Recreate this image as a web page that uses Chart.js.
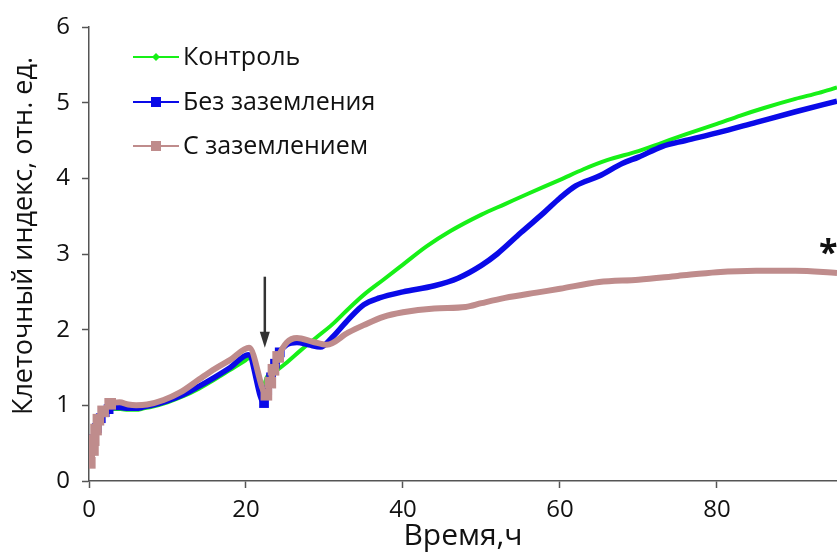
<!DOCTYPE html>
<html lang="ru">
<head>
<meta charset="UTF-8">
<title>Клеточный индекс</title>
<script src="https://cdn.jsdelivr.net/npm/chart.js"></script>
<style>
  html, body { margin: 0; padding: 0; background: #fff; overflow: hidden; }
  #wrap { width: 837px; height: 558px; }
  canvas { display: block; }
</style>
</head>
<body>
<div id="wrap"><canvas id="chart"></canvas></div>
<script>
// Контроль
const timeControl = [0, 0.5, 1, 1.5, 2, 2.5, 3, 4, 5, 6, 7, 8, 10, 12, 14, 16, 18, 20, 20.5, 22, 22.7, 24, 25, 27, 29, 31, 33, 35, 37.5, 40, 43, 46, 50, 53, 56, 60, 63, 66, 70, 73, 76, 80, 83, 86, 90, 93, 95.3];
const valControl = [0.3, 0.5, 0.7, 0.82, 0.9, 0.93, 0.95, 0.95, 0.94, 0.94, 0.96, 0.98, 1.04, 1.12, 1.22, 1.34, 1.47, 1.6, 1.63, 1.2, 1.38, 1.47, 1.55, 1.73, 1.9, 2.07, 2.27, 2.46, 2.66, 2.86, 3.1, 3.3, 3.52, 3.66, 3.8, 3.98, 4.12, 4.24, 4.36, 4.47, 4.58, 4.72, 4.83, 4.93, 5.05, 5.13, 5.2];

// Без заземления
const timeNoGround = [0, 0.3, 0.6, 1, 1.5, 2, 2.5, 3, 4, 5, 6, 7, 8, 10, 12, 14, 16, 18, 20.3, 22.3, 22.7, 23.2, 23.7, 24.3, 25.2, 26.5, 28, 29.5, 31, 33, 35, 37, 40, 44, 47, 50, 52, 55, 58, 60, 62, 65, 68, 70, 73, 76, 80, 85, 90, 95.3];
const valNoGround = [0.35, 0.45, 0.55, 0.7, 0.83, 0.91, 0.95, 0.97, 0.97, 0.96, 0.96, 0.98, 1.0, 1.06, 1.14, 1.25, 1.37, 1.5, 1.67, 1.03, 1.2, 1.37, 1.55, 1.7, 1.8, 1.83, 1.8, 1.77, 1.9, 2.13, 2.33, 2.42, 2.5, 2.58, 2.68, 2.85, 3.0, 3.28, 3.55, 3.74, 3.9, 4.03, 4.2, 4.28, 4.42, 4.5, 4.6, 4.74, 4.88, 5.02];

// С заземлением
const timeGround = [0, 0.1, 0.5, 0.6, 0.9, 1.2, 1.8, 2.7, 3.9, 5, 6, 7.4, 9.5, 11.6, 14, 16, 18, 20.4, 22.6, 23.1, 23.5, 24.1, 25.2, 26.5, 28.5, 30.3, 33, 35, 37.5, 40, 44, 48, 50, 53, 57, 60, 65, 70, 75, 80, 85, 90, 95.3];
const valGround = [0.38, 0.24, 0.41, 0.54, 0.68, 0.81, 0.92, 1.02, 1.04, 1.01, 1.0, 1.01, 1.07, 1.17, 1.34, 1.48, 1.6, 1.76, 1.14, 1.3, 1.47, 1.64, 1.83, 1.89, 1.84, 1.8, 1.96, 2.06, 2.17, 2.23, 2.28, 2.3, 2.35, 2.42, 2.49, 2.54, 2.63, 2.66, 2.71, 2.76, 2.78, 2.78, 2.75];

const seriesNames = ["Контроль", "Без заземления", "С заземлением"];
const xTicks = [0, 20, 40, 60, 80];
const yTicks = [0, 1, 2, 3, 4, 5, 6];
const yTitle = "Клеточный индекс, отн. ед.";

// стрелка (момент воздействия) и звёздочка
const arrowX = 22.4, arrowTop = 2.7, arrowTip = 1.76;
const starX = 94.2, starY = 3.0;

const FONT = "'Open Sans', sans-serif";

function pts(t, v) { return t.map((x, i) => ({ x: x, y: v[i] })); }

// квадратные маркеры видны только там, где точки редкие
function markerRadius(size) {
  return ctx => {
    const x = ctx.raw ? ctx.raw.x : 50;
    return (x < 2.8 || (x > 22 && x < 24.5)) ? size : 0;
  };
}

const datasets = [
  { label: seriesNames[0], data: pts(timeControl, valControl), borderColor: "#17f017", backgroundColor: "#17f017",
    borderWidth: 4, pointRadius: 0, pointStyle: "rectRot", order: 3, legendMarker: { style: "diamond", size: 4 } },
  { label: seriesNames[1], data: pts(timeNoGround, valNoGround), borderColor: "#0a0ae8", backgroundColor: "#0a0ae8",
    borderWidth: 5.5, pointRadius: markerRadius(3), pointStyle: "rect", order: 2, legendMarker: { style: "square", size: 5 } },
  { label: seriesNames[2], data: pts(timeGround, valGround), borderColor: "#bf8c8c", backgroundColor: "#bf8c8c",
    borderWidth: 6, pointRadius: markerRadius(4), pointStyle: "rect", order: 1, legendMarker: { style: "square", size: 5 } }
];

// легенда: линия с маркером + подпись; плюс подпись оси Y (сдвинута вверх, как в оригинале)
const legendPlugin = {
  id: "lineLegend",
  afterDraw(chart) {
    const c = chart.ctx;
    const rows = [57, 102, 146];
    chart.data.datasets.forEach((ds, i) => {
      const y = rows[i];
      c.save();
      c.strokeStyle = ds.borderColor;
      c.lineWidth = 2;
      c.beginPath(); c.moveTo(133, y); c.lineTo(179, y); c.stroke();
      c.fillStyle = ds.borderColor;
      const m = ds.legendMarker, cx = 156;
      if (m.style === "diamond") {
        c.beginPath(); c.moveTo(cx, y - m.size); c.lineTo(cx + m.size, y); c.lineTo(cx, y + m.size); c.lineTo(cx - m.size, y); c.closePath(); c.fill();
      } else {
        c.fillRect(cx - m.size, y - m.size, m.size * 2, m.size * 2);
      }
      c.fillStyle = "#111";
      c.font = "25px " + FONT;
      c.textBaseline = "middle";
      c.fillText(ds.label, 183, y + 1);
      c.restore();
    });

    c.save();
    c.translate(24, 236);
    c.rotate(-Math.PI / 2);
    c.fillStyle = "#111";
    c.font = "27px " + FONT;
    c.textAlign = "center";
    c.textBaseline = "middle";
    c.fillText(yTitle, 0, 0);
    c.restore();
  }
};

const notesPlugin = {
  id: "notes",
  afterDatasetsDraw(chart) {
    const c = chart.ctx, xs = chart.scales.x, ys = chart.scales.y;
    const ax = xs.getPixelForValue(arrowX);
    const y0 = ys.getPixelForValue(arrowTop), y1 = ys.getPixelForValue(arrowTip);
    c.save();
    c.strokeStyle = "#333"; c.fillStyle = "#333"; c.lineWidth = 2.5;
    c.beginPath(); c.moveTo(ax, y0); c.lineTo(ax, y1 - 10); c.stroke();
    c.beginPath(); c.moveTo(ax - 5, y1 - 16); c.lineTo(ax + 5, y1 - 16); c.lineTo(ax, y1); c.closePath(); c.fill();
    c.fillStyle = "#111";
    c.font = "bold 34px " + FONT;
    c.textAlign = "center"; c.textBaseline = "middle";
    c.fillText("*", xs.getPixelForValue(starX), ys.getPixelForValue(starY));
    c.restore();
  }
};

new Chart(document.getElementById("chart"), {
  type: "line",
  data: { datasets: datasets },
  options: {
    responsive: true,
    maintainAspectRatio: false,
    animation: false,
    layout: { autoPadding: false, padding: { top: 27, right: 0, left: 0, bottom: 0 } },
    elements: { line: { cubicInterpolationMode: "monotone" } },
    plugins: { legend: { display: false }, tooltip: { enabled: false } },
    scales: {
      x: {
        type: "linear", min: 0, max: 95.3,
        afterBuildTicks: s => { s.ticks = xTicks.map(v => ({ value: v })); },
        afterFit: s => { s.height = 77; s.paddingRight = 0; s.paddingLeft = 0; },
        grid: { drawOnChartArea: false, tickLength: 7, color: "#555", tickWidth: 1.5 },
        border: { color: "#555", width: 1.5 },
        ticks: { color: "#111", font: { family: FONT, size: 24 }, padding: 8 },
        title: { display: true, text: "Время,ч", color: "#111", font: { family: FONT, size: 30 }, padding: { top: 0 } }
      },
      y: {
        min: 0, max: 6,
        afterBuildTicks: s => { s.ticks = yTicks.map(v => ({ value: v })); },
        afterFit: s => { s.width = 89; },
        grid: { drawOnChartArea: false, tickLength: 7, color: "#555", tickWidth: 1.5 },
        border: { color: "#555", width: 1.5 },
        ticks: { color: "#111", font: { family: FONT, size: 24 }, padding: 12 }
      }
    }
  },
  plugins: [legendPlugin, notesPlugin]
});
</script>
</body>
</html>
